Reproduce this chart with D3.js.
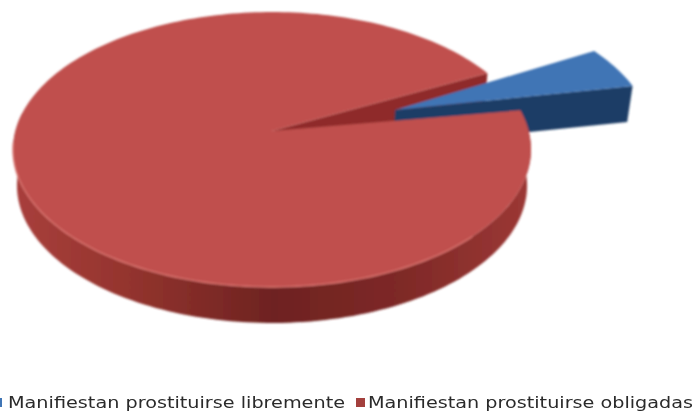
<!DOCTYPE html>
<html>
<head>
<meta charset="utf-8">
<script src="https://cdn.jsdelivr.net/npm/d3@7"></script>
<style>
  html, body { margin: 0; padding: 0; background: #fff; overflow: hidden; }
  text { font-family: "DejaVu Sans", sans-serif; font-size: 15px; fill: #2b2b2b; }
</style>
</head>
<body>
<script>
const categories = ["Manifiestan prostituirse libremente", "Manifiestan prostituirse obligadas"];
const values = [5, 95];
const colors = ["#3f74b5", "#c0504d"];
const legendSwatchX = [-7, 356];
const legendTextX = [8, 368];
const legendTextW = [337, 325];

const width = 697;
const height = 412;

// camera: disc is a unit circle, tipped back with some perspective
const cx = 272, cy = 131;
const rX = 256.6, rY = 135, persp = 0.1346;
const depth = 36, bottomScale = 0.985;
const explode = 0.515;
const blueTilt = -2 * Math.PI / 180;

const first = 63 * Math.PI / 180;
const arcs = d3.pie().sort(null).value((d) => d)
  .startAngle(first).endAngle(first + 2 * Math.PI)(values);

function project(u, v, low) {
  const w = 1 - persp * v;
  let x = rX * u / w, y = cy + rY * v / w;
  if (low) { x *= bottomScale; y += depth; }
  return [cx + x, y];
}

// a = d3 angle, clockwise from north
function rim(a, off, low) {
  return project(off[0] + Math.sin(a), off[1] - Math.cos(a), low);
}

function arcPoints(a0, a1, off, low) {
  const n = Math.max(2, Math.ceil(Math.abs(a1 - a0) * 40));
  return d3.range(n + 1).map((i) => rim(a0 + (a1 - a0) * i / n, off, low));
}

const line = d3.line();
const svg = d3.select("body").append("svg")
  .attr("width", width).attr("height", height);

const defs = svg.append("defs");
defs.append("filter").attr("id", "soft")
  .append("feGaussianBlur").attr("stdDeviation", 0.8);
defs.append("filter").attr("id", "softText")
  .append("feGaussianBlur").attr("stdDeviation", 0.45);

const wallGrad = defs.append("linearGradient").attr("id", "wall")
  .attr("gradientUnits", "userSpaceOnUse")
  .attr("x1", 15).attr("x2", 530).attr("y1", 0).attr("y2", 0);
[[0, "#a83f3c"], [0.2, "#96352f"], [0.5, "#6e2321"], [0.75, "#7e2927"], [1, "#9c3835"]]
  .forEach((s) => wallGrad.append("stop").attr("offset", s[0]).attr("stop-color", s[1]));

const g = svg.append("g").attr("filter", "url(#soft)");

const blue = arcs[0], red = arcs[1];
const none = [0, 0];
const mid = (blue.startAngle + blue.endAngle) / 2;
const off = [explode * Math.sin(mid), -explode * Math.cos(mid)];
const blueStart = blue.startAngle + blueTilt, blueEnd = blue.endAngle + blueTilt;

// far cut face of the big slice, seen through the gap
g.append("path")
  .attr("d", line([
    project(0, 0), rim(red.endAngle, none),
    rim(red.endAngle, none, true), project(0, 0, true),
  ]) + "Z")
  .attr("fill", "#8f2c29");

// small slice, pulled out
g.append("path")
  .attr("d", line([
    project(off[0], off[1]), rim(blueEnd, off),
    rim(blueEnd, off, true), project(off[0], off[1], true),
  ]) + "Z")
  .attr("fill", "#1f3c66");
g.append("path")
  .attr("d", line([project(off[0], off[1])].concat(arcPoints(blueStart, blueEnd, off))) + "Z")
  .attr("fill", colors[0]);

// round wall of the big slice, only the part facing us
const wallEnd = 278 * Math.PI / 180;
g.append("path")
  .attr("d", line(arcPoints(red.startAngle, wallEnd, none)
    .concat(arcPoints(wallEnd, red.startAngle, none, true))) + "Z")
  .attr("fill", "url(#wall)");

// top of the big slice
g.append("path")
  .attr("d", line([project(0, 0)].concat(arcPoints(red.startAngle, red.endAngle, none))) + "Z")
  .attr("fill", colors[1]);

// light rim along the front edge
g.append("path")
  .attr("d", line(arcPoints(135 * Math.PI / 180, 265 * Math.PI / 180, none)))
  .attr("fill", "none").attr("stroke", "#d9736f").attr("stroke-width", 1.4);

const legend = svg.append("g").attr("filter", "url(#softText)");
categories.forEach((c, i) => {
  legend.append("rect")
    .attr("x", legendSwatchX[i]).attr("y", 398)
    .attr("width", 9).attr("height", 9)
    .attr("fill", i === 0 ? colors[0] : "#a33f3c");
  legend.append("text")
    .attr("x", legendTextX[i]).attr("y", 408)
    .attr("textLength", legendTextW[i])
    .attr("lengthAdjust", "spacingAndGlyphs")
    .text(c);
});
</script>
</body>
</html>
